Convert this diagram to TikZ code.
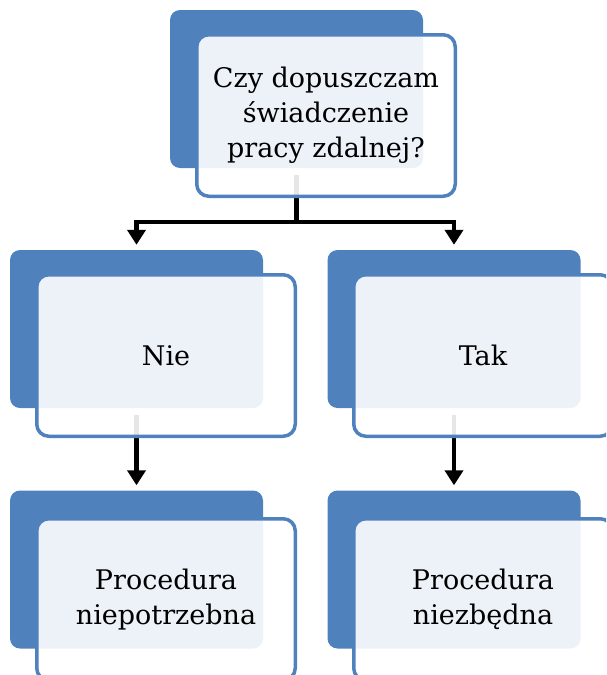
\documentclass[tikz,border=0pt]{standalone}
\usepackage{fontspec}
\setmainfont{DejaVu Serif}
\usetikzlibrary{arrows.meta}
\definecolor{boxblue}{RGB}{79,129,189}

\tikzset{
	backbox/.style = {fill=boxblue, rounded corners=10pt, minimum width=253pt,
		minimum height=158pt, inner sep=0pt},
	frontbox/.style = {draw=boxblue, line width=3.5pt, fill=white, fill opacity=0.9,
		text opacity=1, rounded corners=12pt, minimum width=258.5pt,
		minimum height=161.5pt, inner sep=0pt, align=center,
		font=\fontsize{27}{35}\selectfont},
	conn/.style = {line width=4.5pt, -{Triangle[width=18pt,length=15pt]},
		shorten >=5pt}
}

\begin{document}
\begin{tikzpicture}[x=1pt, y=-1pt]
	\useasboundingbox (0,0) rectangle (606,675);
	\clip (0,0) rectangle (606,675);
	% back boxes
		\node[backbox] (pytB)  at (296.5,89)   {};
		\node[backbox] (nieB)  at (136.5,329)  {};
		\node[backbox] (takB)  at (454,329)    {};
		\node[backbox] (procNB) at (136.5,569.5) {};
		\node[backbox] (procTB) at (454,569.5)   {};
	% connectors
		\coordinate (split) at (296.5,222);
		\draw[conn] ([yshift=-7pt]pytB.south) -- (split) -| (nieB.north);
		\draw[conn] (split) -| (takB.north);
		\draw[conn] ([yshift=-7pt]nieB.south) -- (procNB.north);
		\draw[conn] ([yshift=-7pt]takB.south) -- (procTB.north);
	% front boxes
		\node[frontbox] (pyt)   at (326,115.5) {Czy dopuszczam\\świadczenie\\pracy zdalnej?};
		\node[frontbox] (nie)   at (166,355.5) {Nie};
		\node[frontbox] (tak)   at (483,355.5) {Tak};
		\node[frontbox] (procN) at (166,599.5) {Procedura\\niepotrzebna};
		\node[frontbox] (procT) at (483,599.5) {Procedura\\niezbędna};
\end{tikzpicture}
\end{document}
